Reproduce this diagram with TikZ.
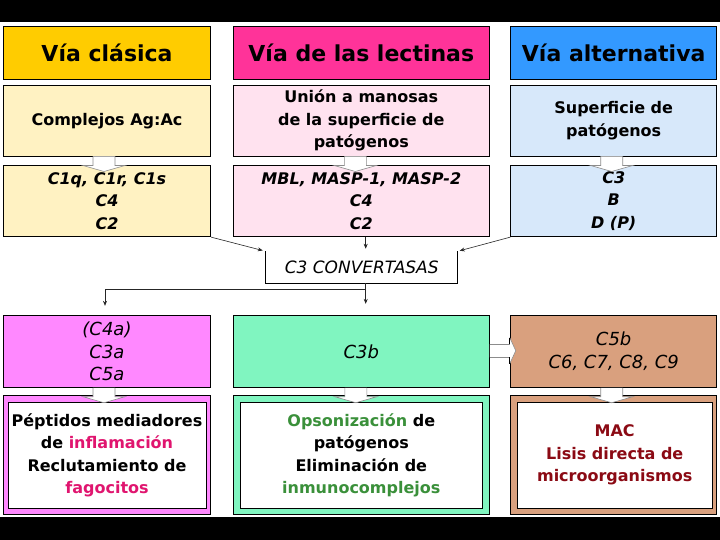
\documentclass[tikz,border=0pt]{standalone}
\usepackage{fontspec}
\setmainfont{DejaVu Sans}
\usetikzlibrary{calc,arrows.meta}
\definecolor{cGold}{HTML}{FFCC00}
\definecolor{cYel}{HTML}{FFF2C2}
\definecolor{cHot}{HTML}{FF3399}
\definecolor{cPinkL}{HTML}{FFE2EF}
\definecolor{cBlue}{HTML}{3399FF}
\definecolor{cBlueL}{HTML}{D7E8FA}
\definecolor{cMag}{HTML}{FF88FF}
\definecolor{cMint}{HTML}{80F5C0}
\definecolor{cBrown}{HTML}{D9A07E}
\definecolor{cInfl}{HTML}{E0156F}
\definecolor{cOps}{HTML}{3A903A}
\definecolor{cMAC}{HTML}{8B0A14}
\definecolor{cArr}{HTML}{8C8C8C}
\begin{document}
\begin{tikzpicture}[x=1pt,y=-1pt,
  base/.style={draw=black, line width=0.9pt, inner sep=0pt, align=center, text=black},
  hdr/.style={base, font=\fontsize{22}{26}\selectfont\bfseries, minimum height=52.6pt},
  txtb/.style={base, font=\fontsize{16}{22.5}\selectfont\bfseries},
  txtbi/.style={base, font=\fontsize{16}{22.5}\selectfont\bfseries\itshape},
  txti/.style={base, font=\fontsize{18}{22.5}\selectfont\itshape},
  wA/.style={minimum width=207.4pt}, wB/.style={minimum width=256pt}, wC/.style={minimum width=206pt},
  conn/.style={draw=black!85, line width=0.6pt, -{Stealth[length=5pt,width=4pt]}},
  blkfill/.style={fill=white},
  blkline/.style={draw=cArr, line width=0.6pt},
  pics/blkdown/.style={code={
    \fill[blkfill] (-11,0) -- (-11,9) -- (-21,9) -- (0,15) -- (21,9) -- (11,9) -- (11,0) -- cycle;
    \draw[blkline] (-11,0) -- (-11,9) -- (-21,9) -- (0,15) -- (21,9) -- (11,9) -- (11,0);}},
  pics/blkright/.style={code={
    \fill[blkfill] (0,-6.6) -- (20,-6.6) -- (20,-13) -- (26,0) -- (20,13) -- (20,6.6) -- (0,6.6) -- cycle;
    \draw[blkline] (0,-6.6) -- (20,-6.6);
    \draw[blkline] (0,6.6) -- (20,6.6);
    \draw[blkline] (20,-13) -- (26,0) -- (20,13);
    \draw[black, line width=0.8pt] (20,-13) -- (20,-6.6) (20,6.6) -- (20,13);}}
]
\useasboundingbox (0,0) rectangle (720,540);
\fill[white] (0,0) rectangle (720,540);
\fill[black] (0,0) rectangle (720,22);
\fill[black] (0,516.7) rectangle (720,540);

% row 1: headers
\node[hdr, wA, fill=cGold] (h1) at (107,53) {Vía clásica};
\node[hdr, wB, fill=cHot] (h2) at (361.3,53) {Vía de las lectinas};
\node[hdr, wC, fill=cBlue] (h3) at (613.7,53) {Vía alternativa};

% row 2
\node[txtb, wA, fill=cYel, minimum height=70.7pt] (r2a) at (107,120.7) {Complejos Ag:Ac};
\node[txtb, wB, fill=cPinkL, minimum height=70.7pt] (r2b) at (361.3,120.7) {Unión a manosas\\de la superficie de\\patógenos};
\node[txtb, wC, fill=cBlueL, minimum height=70.7pt] (r2c) at (613.7,120.7) {Superficie de\\patógenos};

% row 3
\node[txtbi, wA, fill=cYel, minimum height=71.4pt] (r3a) at (107,201) {C1q, C1r, C1s\\C4\\C2};
\node[txtbi, wB, fill=cPinkL, minimum height=71.4pt] (r3b) at (361.3,201) {MBL, MASP-1, MASP-2\\C4\\C2};
\node[txtbi, wC, fill=cBlueL, minimum height=71.4pt] (r3c) at (613.7,201) {C3\\B\\D (P)};

% block arrows row2 -> row3
\pic at ($(r2a.south)+(-3,0)$) {blkdown};
\pic at ($(r2b.south)+(-6,0)$) {blkdown};
\pic at ($(r2c.south)+(-2,0)$) {blkdown};

% C3 convertasas (open top)
\node[txti, draw=none, font=\fontsize{17}{20}\selectfont\itshape, minimum width=191.3pt, minimum height=31pt] (conv) at (361.7,267.2) {C3 CONVERTASAS};
\draw[black, line width=0.8pt] (conv.north west) -- (conv.south west) -- (conv.south east) -- (conv.north east);

% row 4
\node[txti, wA, fill=cMag, minimum height=72pt] (r4a) at (107,351.3) {(C4a)\\C3a\\C5a};
\node[txti, wB, fill=cMint, minimum height=72pt] (r4b) at (361.3,351.3) {C3b};
\node[txti, wC, fill=cBrown, minimum height=72pt] (r4c) at (613.7,351.3) {C5b\\C6, C7, C8, C9};

% row 5 outer frames
\node[base, wA, fill=cMag, minimum height=118.7pt] (r5a) at (107,454.7) {};
\node[base, wB, fill=cMint, minimum height=118.7pt] (r5b) at (361.3,454.7) {};
\node[base, wC, fill=cBrown, minimum height=118.7pt] (r5c) at (613.7,454.7) {};
% inner white boxes
\node[txtb, fill=white, minimum width=198pt, minimum height=106.7pt] (t5a) at (107,455.3)
  {Péptidos mediadores\\de \textcolor{cInfl}{inflamación}\\Reclutamiento de\\\textcolor{cInfl}{fagocitos}};
\node[txtb, fill=white, minimum width=242.7pt, minimum height=106.7pt] (t5b) at (361.3,455.3)
  {\textcolor{cOps}{Opsonización} de\\patógenos\\Eliminación de\\\textcolor{cOps}{inmunocomplejos}};
\node[txtb, fill=white, text=cMAC, minimum width=194.7pt, minimum height=106pt] (t5c) at (614.7,455)
  {MAC\\Lisis directa de\\microorganismos};

% block arrows row4 -> row5
\pic at ($(r4a.south)+(-3,0)$) {blkdown};
\pic at ($(r4b.south)+(-5.5,0)$) {blkdown};
\pic at ($(r4c.south)+(-2,0)$) {blkdown};
% block arrow C3b -> C5b
\pic at ($(r4b.east)+(0,-0.6)$) {blkright};

% thin connectors
\coordinate (m) at ($(r3b.south)+(4.4,0)$);
\draw[conn, shorten >=3pt] (r3a.south east) -- (conv.north west);
\draw[conn, shorten >=2.5pt] (m) -- (m |- conv.north);
\draw[conn, shorten >=2pt] (r3c.south west) -- (conv.north east);
\draw[conn, shorten >=11pt] (m |- conv.south) -- (m |- r4b.north);
\coordinate (split) at ($(m |- conv.south)+(0,6.3)$);
\coordinate (lft) at ($(r4a.north)+(-2,0)$);
\draw[conn, shorten >=9pt] (split) -| (lft);
\end{tikzpicture}
\end{document}
